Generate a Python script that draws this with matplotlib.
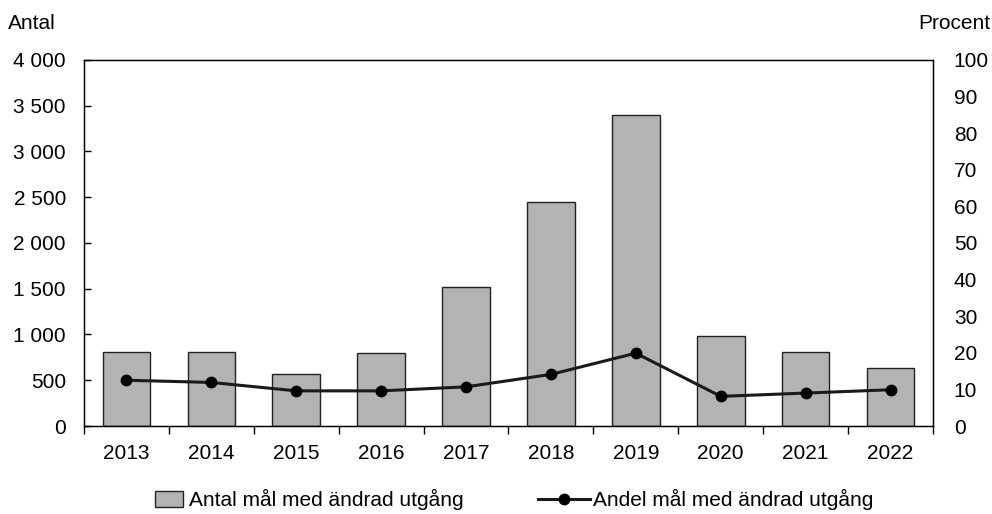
import numpy as np
import matplotlib.pyplot as plt
from matplotlib.ticker import FuncFormatter

plt.rcParams['font.family'] = ['Liberation Sans', 'DejaVu Sans']

years = ['2013', '2014', '2015', '2016', '2017', '2018', '2019', '2020', '2021', '2022']
antal = [810, 805, 565, 795, 1520, 2445, 3395, 980, 805, 632]
andel = [12.5, 11.9, 9.6, 9.6, 10.7, 14.1, 19.9, 8.1, 9.0, 9.9]

fs = 15

fig = plt.figure(figsize=(9.92, 5.14), dpi=100)
ax1 = fig.add_axes([0.0847, 0.1712, 0.8558, 0.7121])
x = np.arange(len(years))

# Bars: number of cases
bars = ax1.bar(x, antal, width=0.56, color='#b3b3b3', edgecolor='#222222',
               linewidth=1.0, label='Antal mål med ändrad utgång', zorder=2)
ax1.set_xlim(-0.5, len(years) - 0.5)
ax1.set_ylim(0, 4000)
ax1.set_yticks(np.arange(0, 4001, 500))
ax1.yaxis.set_major_formatter(FuncFormatter(lambda v, p: f'{int(v):,}'.replace(',', ' ')))
ax1.set_xticks(x)
ax1.set_xticklabels(years, fontsize=fs)
ax1.set_xticks(np.arange(-0.5, len(years)), minor=True)
ax1.tick_params(axis='x', which='major', length=0, pad=13)
ax1.tick_params(axis='x', which='minor', length=6, direction='out', width=1)
ax1.tick_params(axis='y', length=5, direction='in', width=1, labelsize=fs, pad=13)
for s in ax1.spines.values():
    s.set_linewidth(1.0)

# Line: share in percent
ax2 = ax1.twinx()
line, = ax2.plot(x, andel, color='#1a1a1a', linewidth=2.2, marker='o', markersize=7.5,
                 markerfacecolor='black', markeredgecolor='black',
                 label='Andel mål med ändrad utgång', zorder=3)
ax2.set_ylim(0, 100)
ax2.set_yticks(np.arange(0, 101, 10))
ax2.tick_params(axis='y', length=0, labelsize=fs, pad=15)

fig.text(0.008, 0.955, 'Antal', fontsize=fs, ha='left', va='center')
fig.text(0.998, 0.955, 'Procent', fontsize=fs, ha='right', va='center')

# Two legends so each handle gets its own length
fig.legend([bars], ['Antal mål med ändrad utgång'], loc='center left',
           bbox_to_anchor=(155 / 992, 0.028), frameon=False, fontsize=fs,
           borderpad=0, borderaxespad=0, handlelength=1.35, handleheight=0.75,
           handletextpad=0.3)
fig.legend([line], ['Andel mål med ändrad utgång'], loc='center left',
           bbox_to_anchor=(538 / 992, 0.028), frameon=False, fontsize=fs,
           borderpad=0, borderaxespad=0, handlelength=2.5, handletextpad=0.15)

fig.savefig('out.png', dpi=100)
